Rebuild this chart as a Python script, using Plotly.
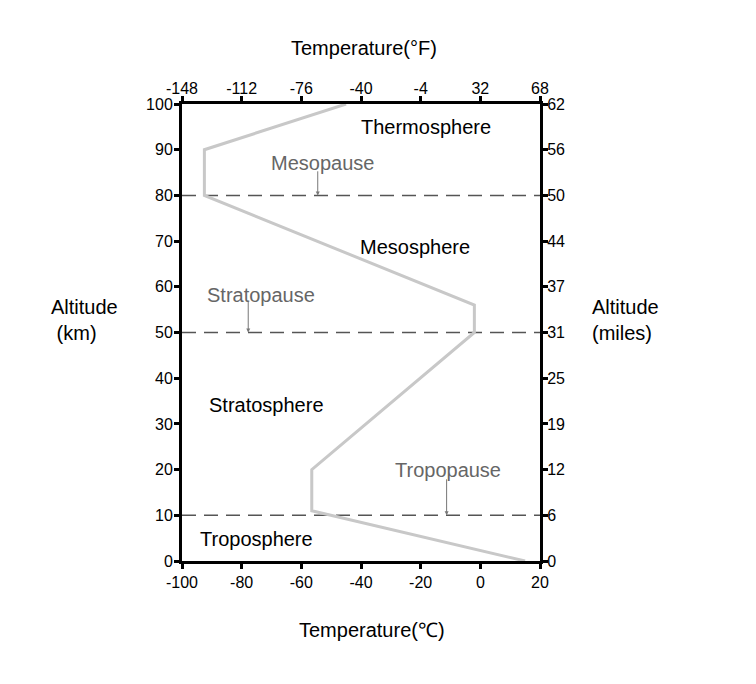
import plotly.graph_objects as go

# Data
temp_c = [15, -56.5, -56.5, -2, -2, -92.5, -92.5, -45]
alt_km = [0, 11, 20, 50, 56, 80, 90, 100]
boundary_km = [10, 50, 80]
x_ticks_c = [-100, -80, -60, -40, -20, 0, 20]
x_ticks_f = [-148, -112, -76, -40, -4, 32, 68]
y_ticks_km = [0, 10, 20, 30, 40, 50, 60, 70, 80, 90, 100]
y_ticks_mi = ["0", "6", "12", "19", "25", "31", "37", "44", "50", "56", "62"]

layer_labels = ["Thermosphere", "Mesosphere", "Stratosphere", "Troposphere"]
layer_x = [-18.3, -21.9, -71.7, -74.9]
layer_y = [95, 68.7, 34.1, 4.8]

pause_labels = ["Mesopause", "Stratopause", "Tropopause"]
pause_x = [-52.8, -73.5, -10.8]
pause_y = [87.1, 58.2, 19.9]
arrow_x = [-54.5, -77.8, -11.3]
arrow_from = [85.6, 57.1, 18.2]
arrow_to = [80, 50, 10]

FONT = "Liberation Sans, Arial, sans-serif"

fig = go.Figure()

# dashed boundary lines
dx, dy = [], []
for b in boundary_km:
    dx += [x_ticks_c[0], x_ticks_c[-1], None]
    dy += [b, b, None]
fig.add_trace(go.Scatter(x=dx, y=dy, mode="lines",
                         line=dict(color="#555555", width=1.5, dash="14px,8px"),
                         hoverinfo="skip", showlegend=False))

# temperature profile
fig.add_trace(go.Scatter(x=temp_c, y=alt_km, mode="lines",
                         line=dict(color="#c8c8c8", width=3),
                         showlegend=False))

# invisible trace for secondary axes
fig.add_trace(go.Scatter(x=[x_ticks_f[0]], y=[0], xaxis="x2", yaxis="y2",
                         mode="markers", marker=dict(opacity=0),
                         hoverinfo="skip", showlegend=False))

axis_common = dict(showline=True, linewidth=3, linecolor="black",
                   ticks="outside", ticklen=5, tickwidth=3, tickcolor="black",
                   showgrid=False, zeroline=False,
                   tickfont=dict(family=FONT, size=16, color="black"))

fig.update_layout(
    width=756, height=684,
    margin=dict(l=182, r=216, t=104, b=123),
    plot_bgcolor="white", paper_bgcolor="white",
    xaxis=dict(range=[-100, 20], tickvals=x_ticks_c,
               ticktext=[str(v) for v in x_ticks_c], side="bottom", **axis_common),
    xaxis2=dict(range=[-148, 68], tickvals=x_ticks_f,
                ticktext=[str(v) for v in x_ticks_f], overlaying="x", side="top",
                anchor="y", ticklabelstandoff=-4, **axis_common),
    yaxis=dict(range=[0, 100], tickvals=y_ticks_km,
               ticktext=[str(v) for v in y_ticks_km], side="left",
               ticklabelstandoff=-2, **axis_common),
    yaxis2=dict(range=[0, 100], tickvals=y_ticks_km, ticktext=y_ticks_mi,
                overlaying="y", side="right", anchor="x",
                ticklabelstandoff=-4, **axis_common),
)

annotations = []
for t, x, y in zip(layer_labels, layer_x, layer_y):
    annotations.append(dict(text=t, x=x, y=y, xref="x", yref="y", showarrow=False,
                            font=dict(family=FONT, size=20, color="black")))
for t, x, y in zip(pause_labels, pause_x, pause_y):
    annotations.append(dict(text=t, x=x, y=y, xref="x", yref="y", showarrow=False,
                            font=dict(family=FONT, size=20, color="#666666")))
for x, y0, y1 in zip(arrow_x, arrow_from, arrow_to):
    annotations.append(dict(text="", x=x, y=y1, xref="x", yref="y",
                            ax=x, ay=y0, axref="x", ayref="y",
                            showarrow=True, arrowhead=2, arrowsize=0.8,
                            arrowwidth=1, arrowcolor="#777777"))

annotations += [
    dict(text="Temperature(°F)", x=0.507, y=1.1225, xref="paper", yref="paper",
         xanchor="center", yanchor="middle",
         showarrow=False, font=dict(family=FONT, size=20, color="black")),
    dict(text="Temperature(℃)", x=0.53, y=-0.151, xref="paper", yref="paper",
         xanchor="center", yanchor="middle",
         showarrow=False, font=dict(family=FONT, size=20, color="black")),
    dict(text="Altitude<br> (km)", x=-0.3715, y=0.527, xref="paper", yref="paper",
         xanchor="left", yanchor="middle", align="left", showarrow=False,
         font=dict(family=FONT, size=20, color="black")),
    dict(text="Altitude<br>(miles)", x=1.1397, y=0.527, xref="paper", yref="paper",
         xanchor="left", yanchor="middle", align="left", showarrow=False,
         font=dict(family=FONT, size=20, color="black")),
]
fig.update_layout(annotations=annotations)

fig.write_html("out.html")
